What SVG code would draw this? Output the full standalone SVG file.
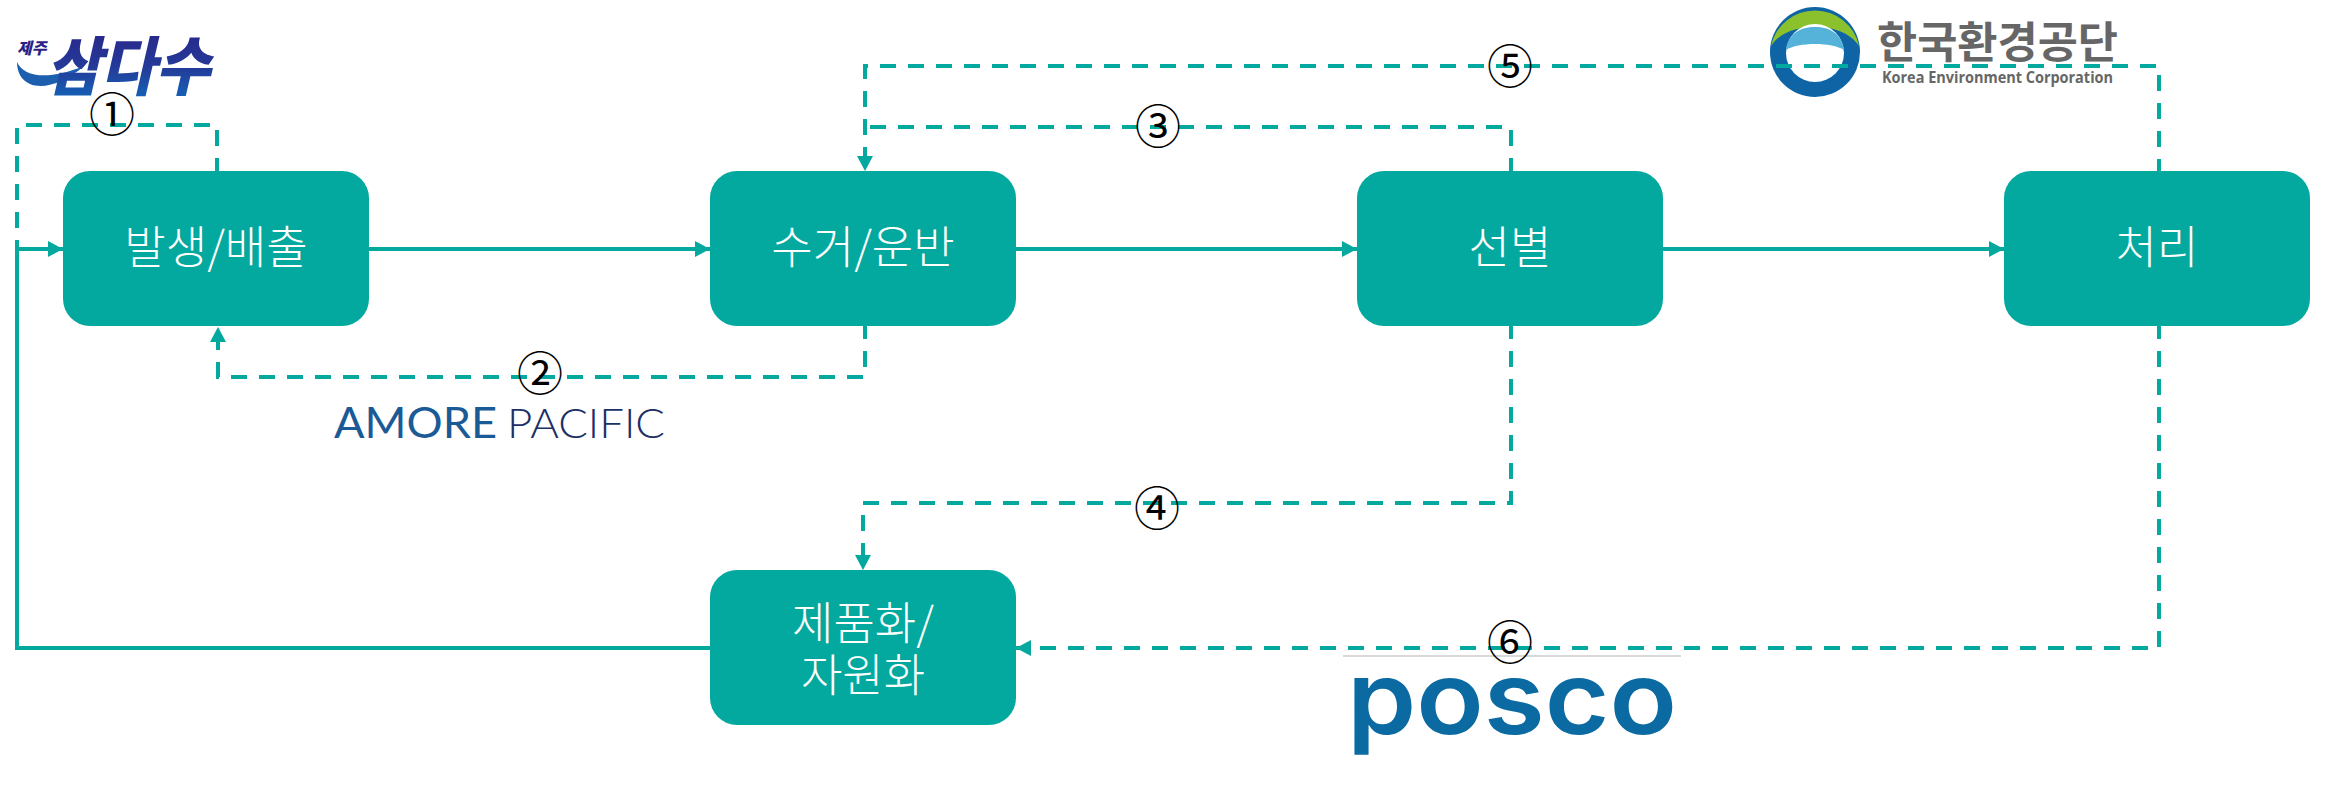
<svg xmlns="http://www.w3.org/2000/svg" width="2338" height="789" viewBox="0 0 2338 789">
<style>
.n{fill:#03a99e}
.t{fill:#fff;font-family:"Noto Sans CJK KR","Noto Sans",sans-serif;font-size:45px;font-weight:300;text-anchor:middle}
.s{fill:none;stroke:#03a99e;stroke-width:4}
.d{fill:none;stroke:#03a99e;stroke-width:4;stroke-dasharray:16 12}
.c{fill:#000;font-family:"Noto Sans CJK KR",sans-serif;font-size:46px;text-anchor:middle}
</style>
<defs>
<marker id="a" viewBox="0 0 15 16" refX="15" refY="8" markerWidth="15" markerHeight="16" markerUnits="userSpaceOnUse" orient="auto"><path d="M0 0L15 8L0 16Z" fill="#03a99e"/></marker>
<linearGradient id="g" x1="0" y1="0" x2="0" y2="1"><stop offset="0" stop-color="#2b1f86"/><stop offset="0.55" stop-color="#243a98"/><stop offset="1" stop-color="#0f6fc0"/></linearGradient>
</defs>
<rect width="2338" height="789" fill="#fff"/>
<g id="logos">
<g id="logo-samdasu">
<path d="M17 62C24 78 50 80 84 66C66 82 44 90 30 84C21 80 17 72 17 62Z" fill="#1b5fae"/>
<text x="17" y="54" font-family="'Noto Sans CJK KR',sans-serif" font-size="16" font-weight="900" font-style="italic" fill="#2b1f86">제주</text>
<text x="46" y="90" font-family="'Noto Sans CJK KR',sans-serif" font-size="64" font-weight="900" font-style="italic" fill="url(#g)" textLength="164" lengthAdjust="spacingAndGlyphs">삼다수</text>
</g>
<g id="logo-keco">
<circle cx="1815" cy="52" r="45" fill="#0f64a5"/>
<path d="M1771 46A45 45 0 0 1 1859 46C1850 32 1832 27 1815 27C1798 27 1780 32 1771 46Z" fill="#8cc12e"/>
<circle cx="1815" cy="53" r="29" fill="#fff"/>
<path d="M1786 50C1788 34 1800 27 1815 27C1830 27 1842 34 1844 50C1832 42 1798 42 1786 50Z" fill="#55b3d9"/>
<text x="1877" y="58" font-family="'Noto Sans CJK KR',sans-serif" font-size="43" font-weight="700" fill="#666" textLength="241" lengthAdjust="spacingAndGlyphs">한국환경공단</text>
<text x="1882" y="83" font-family="'Open Sans','Noto Sans',sans-serif" font-size="16" font-weight="700" fill="#666" textLength="231" lengthAdjust="spacingAndGlyphs">Korea Environment Corporation</text>
</g>
<g id="logo-amore">
<text x="334" y="438" font-family="Lato,sans-serif" font-size="42" fill="#1a5a96" textLength="163" lengthAdjust="spacingAndGlyphs">AMORE</text>
<text x="507" y="438" font-family="Lato,sans-serif" font-size="42" font-weight="300" fill="#1d2f66" textLength="158" lengthAdjust="spacingAndGlyphs">PACIFIC</text>
</g>
<g id="logo-posco">
<line x1="1343" y1="656" x2="1681" y2="656" stroke="#ccc" stroke-width="1.5"/>
<text x="1347" y="734" font-family="Inter,sans-serif" font-size="102" font-weight="600" fill="#0a6aa1" textLength="330" lengthAdjust="spacingAndGlyphs">posco</text>
</g>
</g>
<g id="connectors">
<path class="s" d="M369 249H710" marker-end="url(#a)"/>
<path class="s" d="M1016 249H1357" marker-end="url(#a)"/>
<path class="s" d="M1663 249H2004" marker-end="url(#a)"/>
<path class="s" d="M710 648H17V249H63" marker-end="url(#a)"/>
<path class="d" d="M217 174V125H17V249"/>
<path class="d" d="M865 323V377H218V327" marker-end="url(#a)"/>
<path class="d" d="M1511 174V127H868"/>
<path class="d" d="M2159 175V66H865V171" marker-end="url(#a)"/>
<path class="d" d="M1511 323V503H863V570" marker-end="url(#a)"/>
<path class="d" d="M2159 323V648H1016" marker-end="url(#a)"/>
</g>
<g id="n1"><rect class="n" x="63" y="171" width="306" height="155" rx="27"/><text class="t" x="216" y="264">발생/배출</text></g>
<g id="n2"><rect class="n" x="710" y="171" width="306" height="155" rx="27"/><text class="t" x="863" y="264">수거/운반</text></g>
<g id="n3"><rect class="n" x="1357" y="171" width="306" height="155" rx="27"/><text class="t" x="1510" y="264">선별</text></g>
<g id="n4"><rect class="n" x="2004" y="171" width="306" height="155" rx="27"/><text class="t" x="2157" y="264">처리</text></g>
<g id="n5"><rect class="n" x="710" y="570" width="306" height="155" rx="27"/><text class="t" x="863" y="640">제품화/</text><text class="t" x="863" y="692">자원화</text></g>
<g id="labels">
<text class="c" x="112" y="131">①</text>
<text class="c" x="540" y="390">②</text>
<text class="c" x="1158" y="143">③</text>
<text class="c" x="1157" y="525">④</text>
<text class="c" x="1510" y="83">⑤</text>
<text class="c" x="1510" y="659">⑥</text>
</g>
</svg>
